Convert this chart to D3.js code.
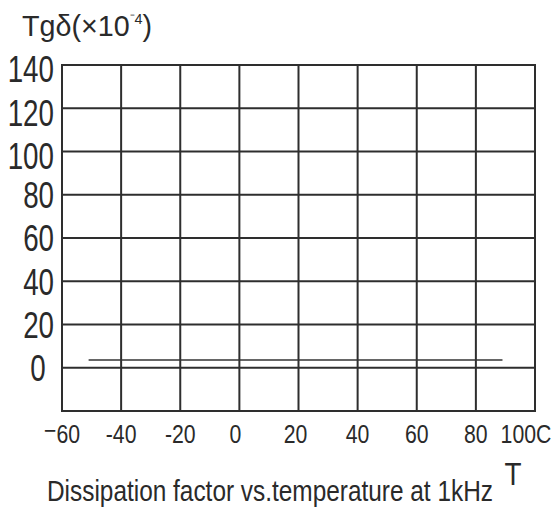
<!DOCTYPE html>
<html><head><meta charset="utf-8">
<script src="https://cdn.jsdelivr.net/npm/d3@7"></script>
<style>body{margin:0;background:#fff}svg{display:block}</style>
</head><body>
<script>
const tempTicks = [-60,-40,-20,0,20,40,60,80,100];
const tempTickLabels = ["\u221260","-40","-20","0","20","40","60","80","100C"];
const dfTicks = [0,20,40,60,80,100,120,140];
const seriesTemp = [-51, 89];
const seriesDf = [3.6, 3.6];

const W=555,H=524;
const svg=d3.select("body").append("svg").attr("width",W).attr("height",H);
const x=d3.scaleLinear().domain([-60,100]).range([62,535]);
const y=d3.scaleLinear().domain([-20,140]).range([411,65]);
const gc="#2e2e2e", font="Liberation Sans, Arial, sans-serif";

// grid
svg.append("g").selectAll("line").data(dfTicks).join("line")
  .attr("x1",x(-60)).attr("x2",x(100)).attr("y1",d=>y(d)).attr("y2",d=>y(d))
  .attr("stroke",gc).attr("stroke-width",2);
svg.append("g").selectAll("line").data(tempTicks.slice(1,-1)).join("line")
  .attr("y1",y(140)).attr("y2",y(-20)).attr("x1",d=>x(d)).attr("x2",d=>x(d))
  .attr("stroke",gc).attr("stroke-width",2);
svg.append("rect").attr("x",x(-60)).attr("y",y(140)).attr("width",x(100)-x(-60)).attr("height",y(-20)-y(140))
  .attr("fill","none").attr("stroke",gc).attr("stroke-width",2);

// data line
svg.append("path").datum(seriesTemp.map((t,i)=>[t,seriesDf[i]]))
  .attr("d",d3.line().x(d=>x(d[0])).y(d=>y(d[1])))
  .attr("fill","none").attr("stroke","#333").attr("stroke-width",1.5);

function squeeze(sel,ratio){sel.each(function(){const n=this;const w=n.getComputedTextLength();n.setAttribute("textLength",w*ratio);n.setAttribute("lengthAdjust","spacingAndGlyphs");});}

// y labels
const yl=svg.append("g").selectAll("text").data(dfTicks).join("text")
  .attr("x",d=>d===0?38:54).attr("y",d=>y(d)+(d>=100?4:0)).attr("dy","0.36em")
  .attr("text-anchor",d=>d===0?"middle":"end")
  .attr("font-family",font).attr("font-size",37).attr("fill","#2a2a2a").text(d=>d);
squeeze(yl,0.75);

// x labels
const xl=svg.append("g").selectAll("text").data(tempTicks).join("text")
  .attr("x",(d,i)=>x(d)+(i===tempTicks.length-1?-9:(d===0?-4:(d===20?-3:0)))).attr("y",443)
  .attr("text-anchor","middle")
  .attr("font-family",font).attr("font-size",25).attr("fill","#2a2a2a")
  .each(function(d,i){
    const s=tempTickLabels[i], el=d3.select(this);
    if(s[0]==="\u2212"){el.append("tspan").attr("dy",-4).text("\u2212");el.append("tspan").attr("dy",4).text(s.slice(1));}
    else el.text(s);
  });
squeeze(xl,0.85);

// title
const t=svg.append("text").attr("x",22).attr("y",36).attr("font-family",font).attr("font-size",30).attr("fill","#2a2a2a");
t.append("tspan").text("Tg\u03B4(\u00D710");
t.append("tspan").attr("font-size",15).attr("dy",-12).text("\u207B4");
t.append("tspan").attr("dy",12).text(")");
t.attr("textLength",130).attr("lengthAdjust","spacingAndGlyphs");

// T label
svg.append("text").attr("x",513).attr("y",485).attr("text-anchor","middle").attr("font-family",font)
  .attr("font-size",32).attr("fill","#2a2a2a").text("T").attr("textLength",17).attr("lengthAdjust","spacingAndGlyphs");

// caption
svg.append("text").attr("x",47).attr("y",501).attr("font-family",font).attr("font-size",29).attr("fill","#2a2a2a")
  .text("Dissipation factor vs.temperature at 1kHz").attr("textLength",446).attr("lengthAdjust","spacingAndGlyphs");
</script>
</body></html>
